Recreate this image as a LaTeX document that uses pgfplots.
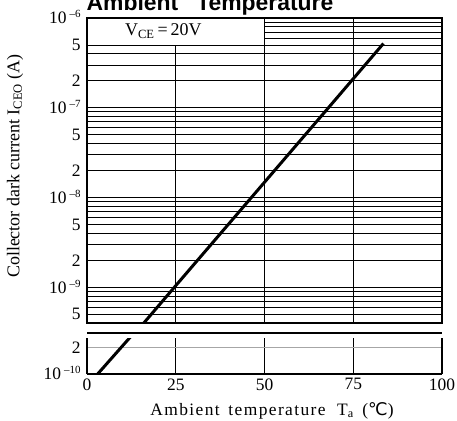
\documentclass[border=0pt]{standalone}
\usepackage{fontspec}
\setmainfont{Liberation Serif}
\newfontfamily\titlefont{Liberation Sans}
\newfontfamily\symfont{DejaVu Sans}
\usepackage{pgfplots}
\pgfplotsset{compat=1.18}
\newcommand\E[1]{10\smash{\raisebox{6bp}{\fontsize{11}{11}\selectfont\kern3bp\textendash#1}}}
\begin{document}
\begin{tikzpicture}[x=1bp,y=1bp]
\useasboundingbox (0,0) rectangle (457,420);
% upper panel
\begin{axis}[
  scale only axis, width=355bp, xmin=0, xmax=100, ymode=log,
  major tick length=0pt, minor tick length=0pt,
  tick label style={font=\fontsize{17.5}{17.5}\selectfont},
  yticklabel style={xshift=-3bp},
  major grid style={black, line width=0.9bp},
  minor grid style={black, line width=0.8bp},
  clip mode=individual,
  at={(87bp,97bp)}, anchor=south west,
  height=305bp,
  ymin=4e-10, ymax=1e-6,
  xtick={25,50,75}, xticklabels={},
  ytick={5e-10,1e-9,2e-9,5e-9,1e-8,2e-8,5e-8,1e-7,2e-7,5e-7,1e-6},
  yticklabels={5,{\E{9}},2,5,{\E{8}},2,5,{\E{7}},2,5,{\E{6}}},
  minor ytick={6e-10,7e-10,8e-10,9e-10,3e-9,4e-9,6e-9,7e-9,8e-9,9e-9,3e-8,4e-8,6e-8,7e-8,8e-8,9e-8,3e-7,4e-7,6e-7,7e-7,8e-7,9e-7},
  xmajorgrids, ymajorgrids, yminorgrids,
  axis line style={line width=1.5bp},
]
\fill[white] (axis cs:0,5e-7) rectangle (axis cs:50,1e-6);
\draw[line width=0.9bp] (axis cs:0,5e-7) -- (axis cs:50,5e-7) -- (axis cs:50,1e-6);
\draw[line width=1.5bp] (rel axis cs:0,0.8) -- (rel axis cs:0,1) -- (rel axis cs:0.6,1);
\node[font=\fontsize{18}{18}\selectfont] at (axis cs:21.5,7.1e-7) {V\textsubscript{CE}\,=\,20V};
\addplot[black, line width=3bp] coordinates {(3,1e-10) (24.6,1e-9) (46.3,1e-8) (68,1e-7) (83.5,5.2e-7)};
\end{axis}
% lower panel
\begin{axis}[
  scale only axis, width=355bp, xmin=0, xmax=100, ymode=log,
  major tick length=0pt, minor tick length=0pt,
  tick label style={font=\fontsize{17.5}{17.5}\selectfont},
  yticklabel style={xshift=-3bp},
  xticklabel style={yshift=-1bp},
  major grid style={black, line width=0.9bp},
  major y grid style={gray!70, line width=0.9bp},
  clip mode=individual,
  at={(87bp,46bp)}, anchor=south west,
  height=36bp,
  ymin=1e-10, ymax=2.6e-10,
  xtick={0,25,50,75,100}, xticklabels={0,25,50,75,100},
  ytick={1e-10,2e-10}, yticklabels={{\E{10}},2},
  xmajorgrids, ymajorgrids,
  axis x line=bottom, axis y line=box,
  axis line style={-, line width=1.5bp},
]
\draw[line width=1.3bp] (rel axis cs:0,1.14) -- (rel axis cs:1,1.14);
\addplot[black, line width=3bp] coordinates {(3,1e-10) (24.6,1e-9)};
\end{axis}
\node[anchor=base, font=\fontsize{17.5}{17.5}\selectfont\addfontfeatures{LetterSpace=8}] at (272,5) {Ambient\, temperature\,\, T\textsubscript{a}\, ({\symfont ℃})};
\node[rotate=90, anchor=center, font=\fontsize{18}{18}\selectfont] at (15,254) {Collector dark current I\textsubscript{CEO} (A)};
\node[anchor=base, font=\titlefont\bfseries\fontsize{23}{23}\selectfont] at (210,409) {Ambient\hspace{18bp}Temperature};
\end{tikzpicture}
\end{document}
